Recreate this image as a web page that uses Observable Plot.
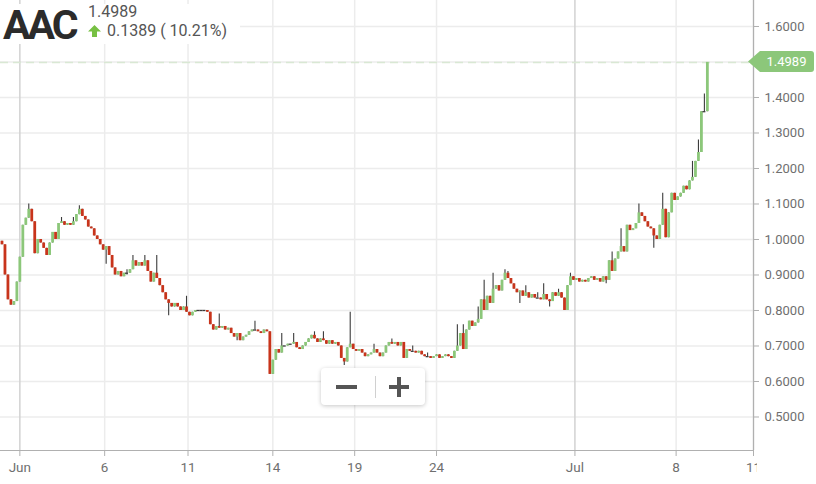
<!DOCTYPE html>
<html>
<head>
<meta charset="utf-8">
<script src="https://cdn.jsdelivr.net/npm/d3@7"></script>
<script src="https://cdn.jsdelivr.net/npm/@observablehq/plot@0.6"></script>
<style>
  html, body { margin: 0; padding: 0; background: #fff; }
  #wrap { position: relative; width: 816px; height: 484px; overflow: hidden; font-family: Roboto, "Noto Sans", sans-serif; }
  #chart svg { display: block; }
  .abs { position: absolute; }
</style>
</head>
<body>
<div id="wrap">
  <div id="chart"></div>
</div>
<script>
// ---- data ----
const ticker = "AAC";
const lastPrice = 1.4989;
const change = 0.1389;
const changePct = 10.21;
const firstOpen = 0.995;
const closes = [
  0.985, 0.90, 0.83, 0.815, 0.825, 0.88, 0.95, 1.04, 1.06, 1.085,
  1.05, 0.96, 1.00, 0.99, 0.975, 0.955, 0.99, 1.02, 1.00, 1.045,
  1.05, 1.04, 1.045, 1.04, 1.05, 1.07, 1.085, 1.065, 1.055, 1.035,
  1.03, 1.01, 1.00, 0.985, 0.97, 0.98, 0.955, 0.92, 0.90, 0.91,
  0.895, 0.905, 0.905, 0.915, 0.94, 0.925, 0.935, 0.925, 0.94, 0.91,
  0.88, 0.905, 0.89, 0.87, 0.85, 0.83, 0.82, 0.81, 0.82, 0.81,
  0.80, 0.81, 0.795, 0.785, 0.795, 0.80, 0.80, 0.80, 0.80, 0.795,
  0.76, 0.745, 0.755, 0.75, 0.755, 0.745, 0.75, 0.735, 0.725, 0.735,
  0.715, 0.725, 0.73, 0.74, 0.745, 0.745, 0.74, 0.735, 0.745, 0.74,
  0.62, 0.66, 0.69, 0.68, 0.70, 0.70, 0.705, 0.705, 0.71, 0.695,
  0.69, 0.70, 0.71, 0.72, 0.73, 0.72, 0.71, 0.72, 0.715, 0.705,
  0.715, 0.705, 0.71, 0.70, 0.665, 0.655, 0.695, 0.705, 0.69, 0.685,
  0.69, 0.68, 0.67, 0.675, 0.68, 0.69, 0.68, 0.67, 0.68, 0.70,
  0.71, 0.705, 0.71, 0.70, 0.71, 0.665, 0.69, 0.685, 0.685, 0.68,
  0.685, 0.675, 0.67, 0.67, 0.665, 0.67, 0.675, 0.665, 0.67, 0.675,
  0.67, 0.665, 0.685, 0.70, 0.735, 0.69, 0.745, 0.77, 0.755, 0.765,
  0.775, 0.83, 0.80, 0.84, 0.82, 0.86, 0.87, 0.855, 0.885, 0.905,
  0.89, 0.875, 0.86, 0.85, 0.855, 0.84, 0.85, 0.835, 0.845, 0.835,
  0.835, 0.83, 0.845, 0.83, 0.825, 0.85, 0.84, 0.85, 0.835, 0.80,
  0.87, 0.895, 0.885, 0.89, 0.88, 0.885, 0.88, 0.89, 0.895, 0.885,
  0.89, 0.88, 0.895, 0.885, 0.94, 0.91, 0.945, 0.965, 0.98, 0.965,
  1.04, 1.025, 1.03, 1.045, 1.075, 1.065, 1.05, 1.035, 1.03, 1.01,
  1.00, 1.04, 1.085, 1.005, 1.075, 1.13, 1.11, 1.12, 1.13, 1.15,
  1.14, 1.165, 1.175, 1.22, 1.245, 1.36, 1.36, 1.4989
];
// candles whose wick reaches beyond the body
const wickIdx  = [9, 20, 24, 26, 35, 42, 44, 48, 52, 56, 62, 73, 79, 85, 94, 98, 105, 108, 115, 117, 125, 131, 138, 143, 153, 155, 160, 162, 165, 169, 170, 174, 176, 180, 182, 184, 187, 191, 203, 205, 208, 214, 219, 222, 232, 234, 236];
const wickHigh = [1.10, 1.062, 1.062, 1.095, null, 0.915, 0.955, 0.955, 0.955, null, 0.84, 0.79, null, 0.77, 0.735, 0.735, 0.74, 0.74, null, 0.795, 0.705, 0.72, 0.70, 0.68, 0.76, 0.76, 0.81, 0.885, 0.905, 0.915, 0.91, null, 0.87, 0.85, 0.875, null, 0.86, 0.905, null, 0.965, 1.03, 1.10, null, 1.13, 1.22, 1.28, 1.41];
const wickLow  = [null, null, null, null, 0.93, 0.90, null, null, null, 0.785, null, null, 0.715, null, null, null, null, null, 0.645, null, null, null, null, null, null, null, null, null, null, null, null, 0.82, null, null, null, 0.81, null, null, 0.875, null, null, null, 0.975, null, null, null, null];
const gridTicks = [0.5, 0.6, 0.7, 0.8, 0.9, 1.0, 1.1, 1.2, 1.3, 1.4, 1.5, 1.6];
const yTickLabels = [0.5, 0.6, 0.7, 0.8, 0.9, 1.0, 1.1, 1.2, 1.3, 1.4, 1.6];
const xTickIdx = [6, 34.5, 62.5, 91, 118.5, 146, 192.5, 226.5, 252.5];
const xTickLabels = ["Jun", "6", "11", "14", "19", "24", "Jul", "8", "11"];
const monthTicks = [6, 192.5];

// ---- build table ----
const wickMap = new Map(wickIdx.map((k, j) => [k, [wickHigh[j], wickLow[j]]]));
const candles = closes.map((c, i) => {
  const o = i === 0 ? firstOpen : closes[i - 1];
  const w = wickMap.get(i) || [null, null];
  return {
    i, open: o, close: c,
    high: w[0] != null ? w[0] : Math.max(o, c),
    low: w[1] != null ? w[1] : Math.min(o, c)
  };
});
const bodies = candles.filter(d => d.open !== d.close);
const dojis = candles.filter(d => d.open === d.close);
const labelMap = new Map(xTickIdx.map((t, k) => [t, xTickLabels[k]]));

const UP = "#8cc77a", DOWN = "#c8341b", WICK = "#3c3c3c";
const yMin = 0.4056, yMax = 1.6732, xMax = 252.5;

const chart = Plot.plot({
  width: 816,
  height: 484,
  marginLeft: 0,
  marginRight: 63,
  marginTop: 0,
  marginBottom: 34,
  x: { domain: [-0.5, xMax] },
  y: { domain: [yMin, yMax] },
  style: { fontFamily: "Roboto, 'Noto Sans', sans-serif", background: "#fff", overflow: "visible" },
  marks: [
    Plot.ruleY(gridTicks, { stroke: "#ececec", strokeWidth: 1.5 }),
    Plot.ruleX(xTickIdx.filter(t => !monthTicks.includes(t)), { stroke: "#ececec", strokeWidth: 1.5 }),
    Plot.ruleX(monthTicks, { stroke: "#d2d2d2", strokeWidth: 1.5 }),
    Plot.ruleY([lastPrice], { stroke: "#d9e8d4", strokeWidth: 1.5, strokeDasharray: "8,5" }),
    Plot.ruleX(candles, { x: "i", y1: "low", y2: "high", stroke: WICK, strokeWidth: 1.1 }),
    Plot.ruleX(bodies, { x: "i", y1: "open", y2: "close", stroke: d => d.close > d.open ? UP : DOWN, strokeWidth: 2.8 }),
    Plot.ruleY(dojis, { y: "close", x1: d => d.i - 0.5, x2: d => d.i + 0.5, stroke: WICK, strokeWidth: 1.3 }),
    Plot.ruleX([xMax], { stroke: "#b0b0b0", strokeWidth: 1.2 }),
    Plot.ruleY([yMin], { stroke: "#b0b0b0", strokeWidth: 1.2 }),
    Plot.axisY(yTickLabels, { anchor: "right", tickFormat: d3.format(".4f"), tickSize: 5, tickPadding: 6, fontSize: 13, stroke: "#b0b0b0", fill: "#6f6f6f", label: null }),
    Plot.axisX(xTickIdx, { anchor: "bottom", tickFormat: d => labelMap.get(d), tickSize: 6, tickPadding: 6, fontSize: 13.5, stroke: "#b0b0b0", fill: "#6f6f6f", label: null })
  ]
});
document.getElementById("chart").appendChild(chart);

const wrap = document.getElementById("wrap");
const yPix = chart.scale("y").apply(lastPrice);
const xPix = chart.scale("x").apply(xMax);

// header overlay
const head = document.createElement("div");
head.className = "abs";
head.style.cssText = "left:0;top:4px;width:240px;height:40px;background:#fff;";
wrap.appendChild(head);

const t = document.createElement("div");
t.className = "abs";
t.textContent = ticker;
t.style.cssText = "left:3px;top:3px;font-size:41px;line-height:44px;font-weight:700;color:#2b2b2b;letter-spacing:-3px;white-space:nowrap;";
wrap.appendChild(t);

const p = document.createElement("div");
p.className = "abs";
p.textContent = lastPrice.toFixed(4);
p.style.cssText = "left:88px;top:2px;font-size:16px;line-height:19px;color:#555;";
wrap.appendChild(p);

const ch = document.createElement("div");
ch.className = "abs";
ch.innerHTML = '<svg width="13" height="12" style="vertical-align:-1px;margin-right:6px"><path d="M6.5 0 L13 6.5 L9 6.5 L9 12 L4 12 L4 6.5 L0 6.5 Z" fill="#77c043"/></svg>' +
  change.toFixed(4) + " ( " + changePct.toFixed(2) + "%)";
ch.style.cssText = "left:88px;top:21px;font-size:16px;line-height:19px;color:#555;white-space:nowrap;";
wrap.appendChild(ch);

// price tag at right axis
const tag = document.createElement("div");
tag.className = "abs";
tag.innerHTML = '<svg width="66" height="21"><path d="M0 10.5 L12 0 L63 0 Q66 0 66 3 L66 18 Q66 21 63 21 L12 21 Z" fill="#8cc77a"/><text x="38.5" y="15" text-anchor="middle" font-size="13" fill="#fff" font-family="Roboto, sans-serif">' + lastPrice.toFixed(4) + '</text></svg>';
tag.style.cssText = `left:${xPix - 5}px;top:${yPix - 10.5}px;line-height:0;`;
wrap.appendChild(tag);

// hide the clipped end of the last date label
const clip = document.createElement("div");
clip.className = "abs";
clip.style.cssText = `left:${xPix + 4}px;top:458px;width:70px;height:26px;background:#fff;`;
wrap.appendChild(clip);

// zoom buttons
const zb = document.createElement("div");
zb.className = "abs";
zb.style.cssText = "left:321px;top:368px;width:104px;height:37px;background:#fff;border-radius:4px;box-shadow:0 1px 4px rgba(0,0,0,0.22);";
zb.innerHTML =
  '<div class="abs" style="left:15px;top:17px;width:21px;height:4px;background:#555;"></div>' +
  '<div class="abs" style="left:54px;top:8px;width:1px;height:22px;background:#d0d0d0;"></div>' +
  '<div class="abs" style="left:68px;top:17px;width:20px;height:4px;background:#555;"></div>' +
  '<div class="abs" style="left:76px;top:9px;width:4px;height:20px;background:#555;"></div>';
wrap.appendChild(zb);
</script>
</body>
</html>
